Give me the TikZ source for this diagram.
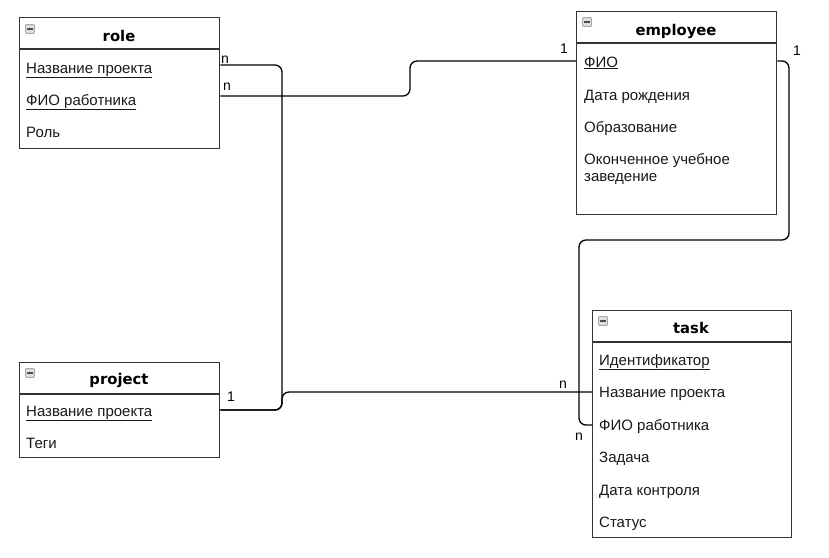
\documentclass[tikz,border=0pt]{standalone}
\usepackage{fontspec}
\setmainfont{Liberation Sans}
\newfontfamily\hdrfont{DejaVu Sans}
\begin{document}
\begin{tikzpicture}[x=1pt,y=-1pt,
  tbl/.style={draw=black!80, line width=1.3pt, anchor=north west, inner sep=0pt},
  sep/.style={draw=black!80, line width=1.3pt},
  fld/.style={anchor=base west, inner sep=0pt, font=\fontsize{15}{18}\selectfont, text=black!90},
  hdr/.style={anchor=base, inner sep=0pt, font=\hdrfont\bfseries\fontsize{14.8}{17}\selectfont},
  lbl/.style={anchor=base, inner sep=0pt, font=\fontsize{14}{16}\selectfont},
  conn/.style={draw=black, line width=1.3pt, rounded corners=7pt},
  mini/.pic={\draw[gray!70, fill=gray!25, rounded corners=1pt, line width=0.8pt] (-4.5,-4.5) rectangle (4.5,4.5);
             \draw[black!70, line width=1.2pt] (-2.8,0) -- (2.8,0);}]
\useasboundingbox (0,0) rectangle (829,557);
\fill[white] (0,0) rectangle (829,557);

% role
\node[tbl, minimum width=200pt, minimum height=131pt] (role) at (19,17) {};
\draw[sep] (role.west |- 0,49) -- (role.east |- 0,49);
\pic at (30,29) {mini};
\node[hdr] (roleH) at (119,41) {role};
\node[fld] (roleF1) at (26,73) {\underline{Название проекта}};
\node[fld] (roleF2) at (26,105) {\underline{ФИО работника}};
\node[fld] (roleF3) at (26,137) {Роль};

% employee
\node[tbl, minimum width=200pt, minimum height=203pt] (employee) at (576,11) {};
\draw[sep] (employee.west |- 0,43) -- (employee.east |- 0,43);
\pic at (587,22) {mini};
\node[hdr] (empH) at (676,35) {employee};
\node[fld] (empF1) at (584,67) {\underline{ФИО}};
\node[fld] (empF2) at (584,100) {Дата рождения};
\node[fld] (empF3) at (584,132) {Образование};
\node[fld] (empF4) at (584,164) {Оконченное учебное};
\node[fld] (empF5) at (584,181) {заведение};

% project
\node[tbl, minimum width=200pt, minimum height=95pt] (project) at (19,362) {};
\draw[sep] (project.west |- 0,394) -- (project.east |- 0,394);
\pic at (30,373) {mini};
\node[hdr] (projH) at (119,384) {project};
\node[fld] (projF1) at (26,416) {\underline{Название проекта}};
\node[fld] (projF2) at (26,448) {Теги};

% task
\node[tbl, minimum width=199pt, minimum height=227pt] (task) at (592,310) {};
\draw[sep] (task.west |- 0,342) -- (task.east |- 0,342);
\pic at (603,321) {mini};
\node[hdr] (taskH) at (691,333) {task};
\node[fld] (taskF1) at (599,365) {\underline{Идентификатор}};
\node[fld] (taskF2) at (599,397) {Название проекта};
\node[fld] (taskF3) at (599,430) {ФИО работника};
\node[fld] (taskF4) at (599,462) {Задача};
\node[fld] (taskF5) at (599,495) {Дата контроля};
\node[fld] (taskF6) at (599,527) {Статус};

% connectors
\draw[conn] (role.east |- 0,65) -- (282,65) -- (282,410) -- (project.east |- 0,410);
\draw[conn] (project.east |- 0,410) -- (282,410) -- (282,392) -- (task.west |- 0,392);
\draw[conn] (role.east |- 0,96) -- (410,96) -- (410,61) -- (employee.west |- 0,61);
\draw[conn] (employee.east |- 0,61) -- (789,61) -- (789,240) -- (579,240) -- (579,425) -- (task.west |- 0,425);

% multiplicities
\node[lbl] (m1) at (225,63) {n};
\node[lbl] (m2) at (227,90) {n};
\node[lbl] (m3) at (564,53) {1};
\node[lbl] (m4) at (797,55) {1};
\node[lbl] (m5) at (231,401) {1};
\node[lbl] (m6) at (563,388) {n};
\node[lbl] (m7) at (579,440) {n};
\end{tikzpicture}
\end{document}
